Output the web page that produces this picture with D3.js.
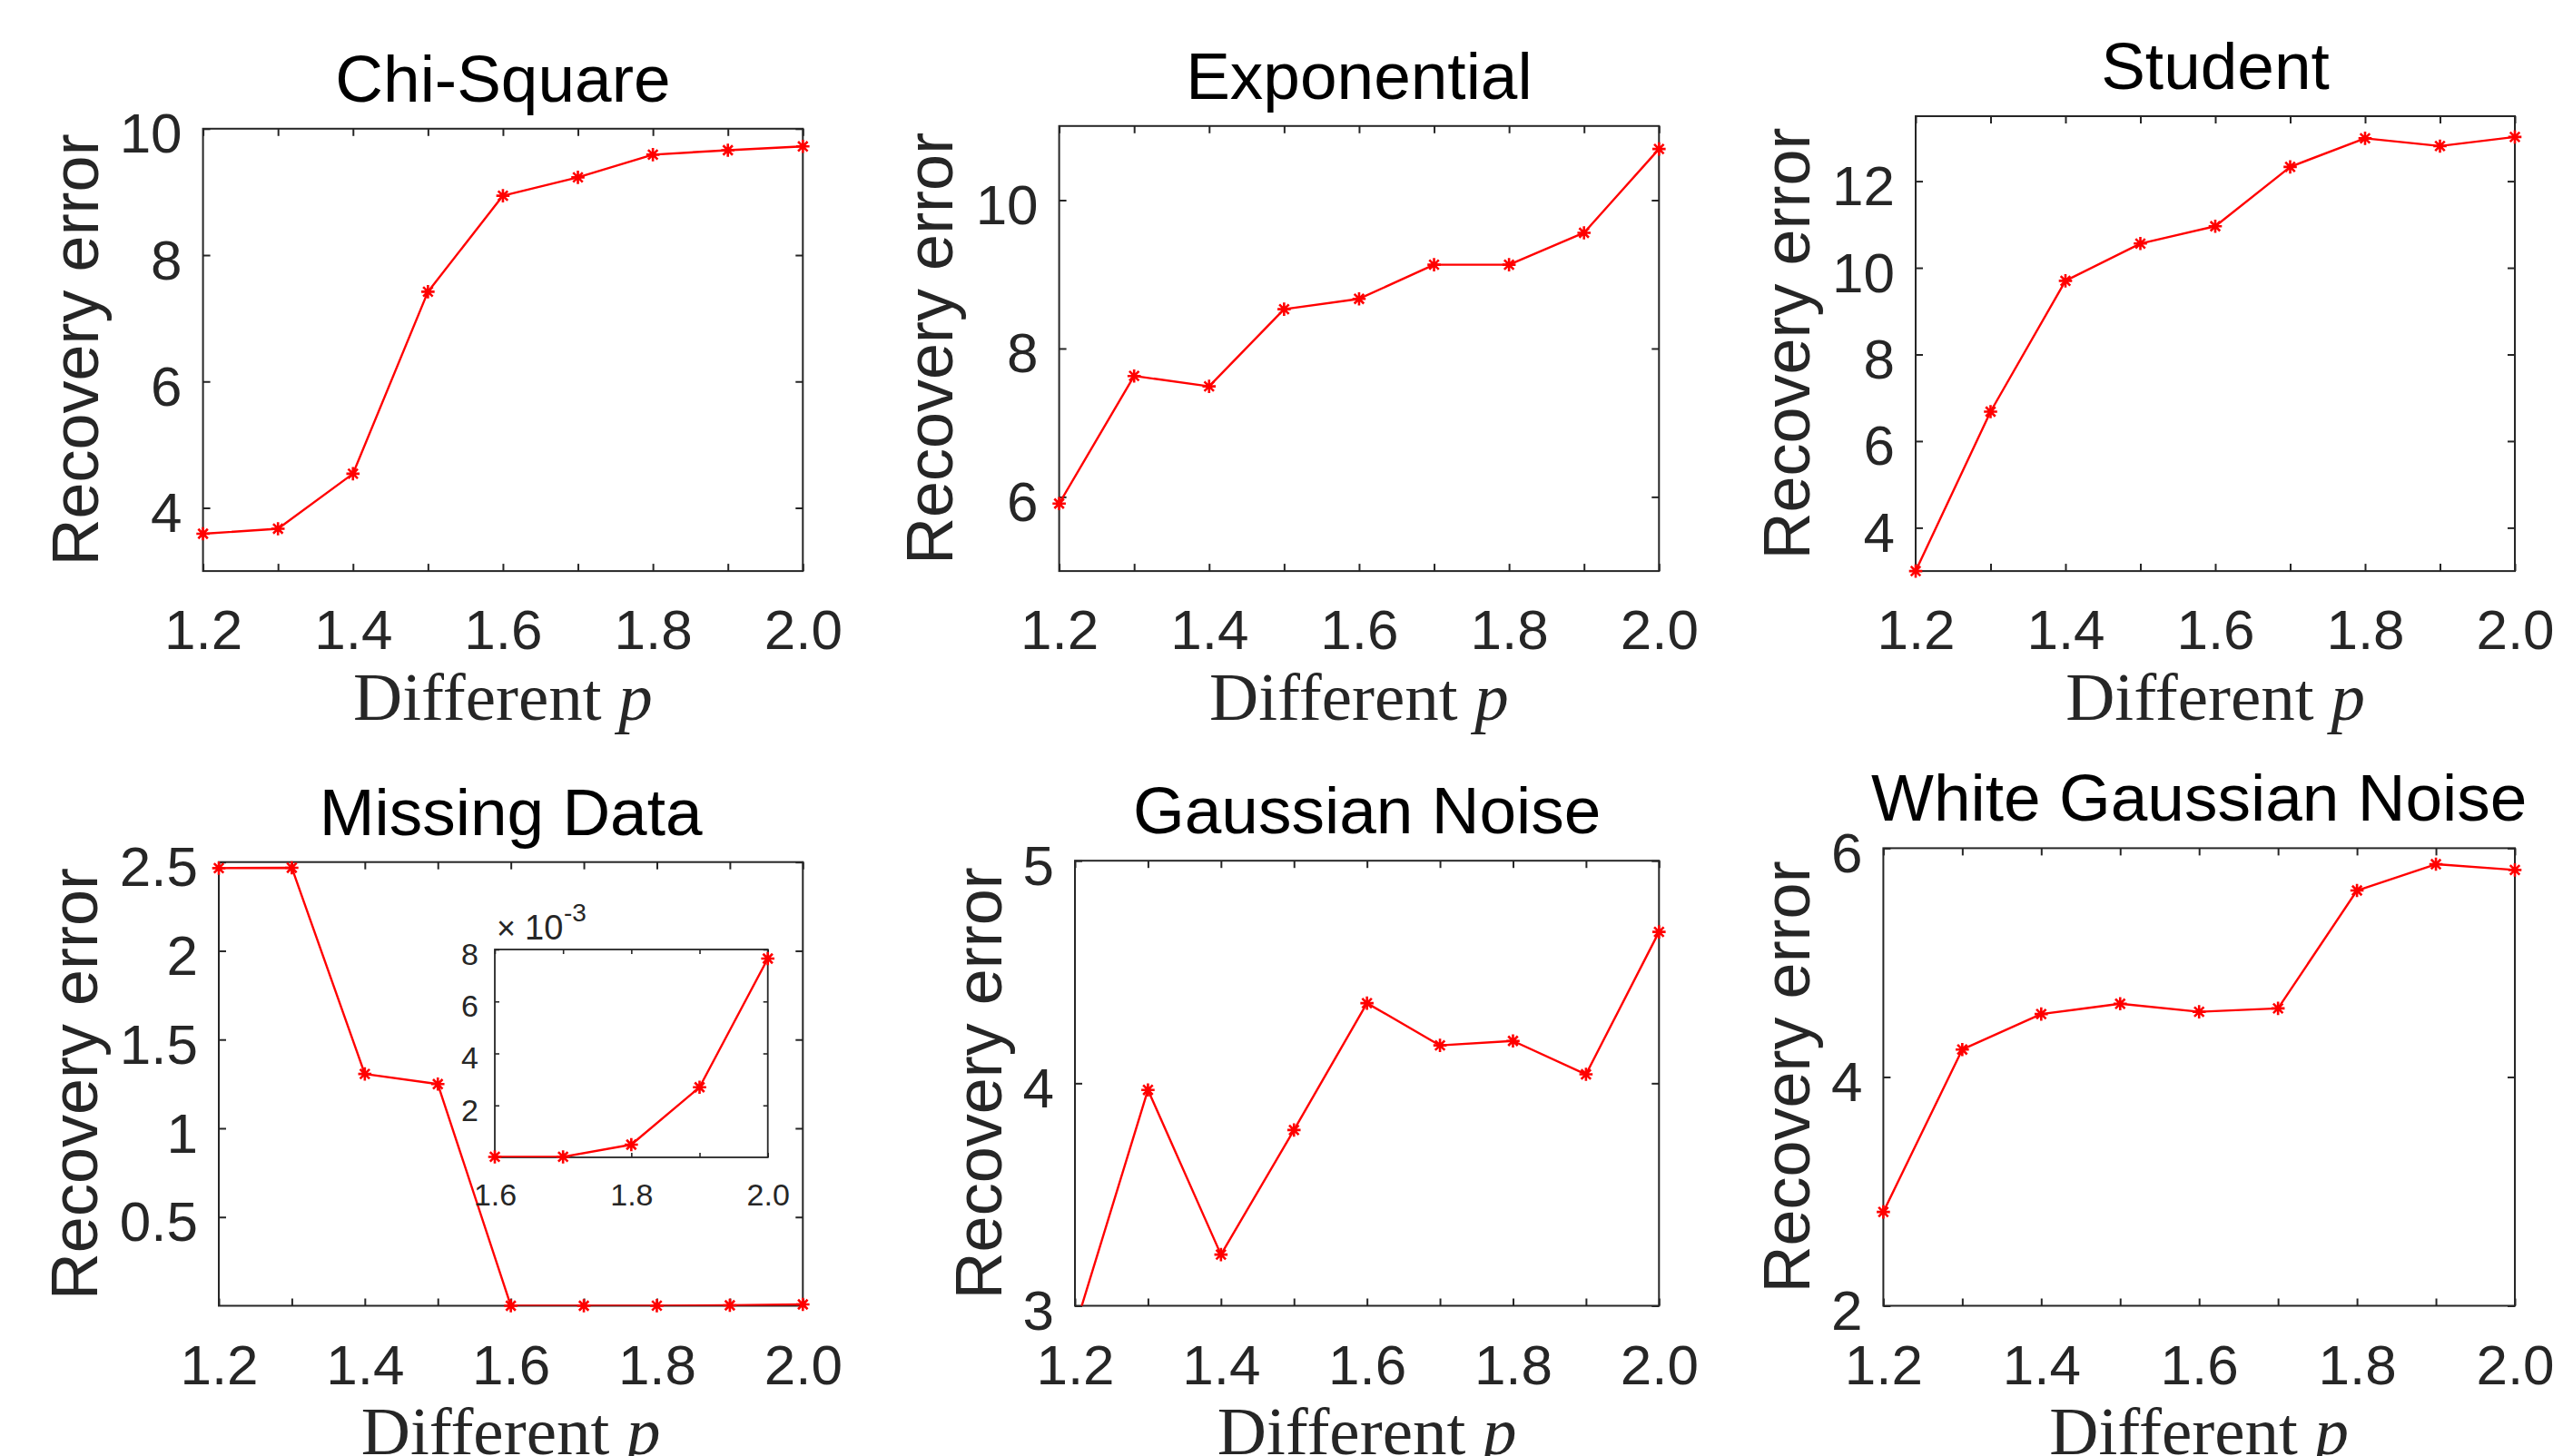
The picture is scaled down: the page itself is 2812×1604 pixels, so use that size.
<!DOCTYPE html>
<html>
<head>
<meta charset="utf-8">
<script src="https://cdn.jsdelivr.net/npm/d3@7"></script>
<style>
  html, body { margin: 0; padding: 0; background: #fff; }
  svg { display: block; }
  .tick text { font-family: "Liberation Sans", Arial, Helvetica, sans-serif; fill: #262626; }
</style>
</head>
<body>
<svg id="chart" width="2812" height="1604"></svg>
<script>
// ---------------- DATA ----------------
const pValues = [1.2, 1.3, 1.4, 1.5, 1.6, 1.7, 1.8, 1.9, 2.0];
const xTickLabels = ["1.2", "", "1.4", "", "1.6", "", "1.8", "", "2.0"];

const titles = ["Chi-Square", "Exponential", "Student", "Missing Data", "Gaussian Noise", "White Gaussian Noise"];

const chiSquare          = [3.59, 3.67, 4.54, 7.42, 8.94, 9.23, 9.59, 9.66, 9.72];
const exponential        = [5.91, 7.63, 7.49, 8.53, 8.67, 9.13, 9.13, 9.56, 10.69];
const student            = [3.00, 6.68, 9.70, 10.56, 10.96, 12.33, 12.99, 12.81, 13.02];
const missingData        = [2.466, 2.468, 1.306, 1.249, 0.00002, 0.00002, 0.00049, 0.0027, 0.00765];
const gaussianNoise      = [2.90, 3.97, 3.23, 3.79, 4.36, 4.17, 4.19, 4.04, 4.68];
const whiteGaussianNoise = [2.82, 4.24, 4.55, 4.64, 4.57, 4.60, 5.63, 5.86, 5.81];

const seriesList = [chiSquare, exponential, student, missingData, gaussianNoise, whiteGaussianNoise];

const yDomains = [[3, 10], [5, 11], [3, 13.5], [0, 2.5], [3, 5], [2, 6]];
const yTicks = [
  [4, 6, 8, 10],
  [6, 8, 10],
  [4, 6, 8, 10, 12],
  [0.5, 1, 1.5, 2, 2.5],
  [3, 4, 5],
  [2, 4, 6]
];

// inset (Missing Data, zoomed)
const insetP = [1.6, 1.7, 1.8, 1.9, 2.0];
const insetMissing = [0.00002, 0.00002, 0.00049, 0.0027, 0.00765];
const insetXTickLabels = ["1.6", "", "1.8", "", "2.0"];
const insetYTicks = [0.002, 0.004, 0.006, 0.008];

// ---------------- LAYOUT ----------------
const layout = [
  { left: 223.6, right: 884.3, top: 141.8, bottom: 629.1, ylabOff: 116 },
  { left: 1166.6, right: 1827.3, top: 138.8, bottom: 629.1, ylabOff: 118 },
  { left: 2110, right: 2770, top: 128, bottom: 629.1, ylabOff: 117 },
  { left: 241, right: 884.3, top: 949.7, bottom: 1438.5, ylabOff: 134 },
  { left: 1184, right: 1827.3, top: 948.2, bottom: 1438.5, ylabOff: 81 },
  { left: 2074.4, right: 2770, top: 934.4, bottom: 1438.5, ylabOff: 81 }
];
const insetLayout = { left: 545, right: 845.7, top: 1046, bottom: 1275 };

const AXIS_COLOR = "#262626";
const RED = "#ff0000";
const SANS = '"Liberation Sans", Arial, Helvetica, sans-serif';
const SERIF = '"Liberation Serif", "Times New Roman", serif';

const svg = d3.select("#chart");

function asteriskPath(x, y, r) {
  const d = r * 0.72;
  return `M${x - r},${y}H${x + r}M${x},${y - r}V${y + r}` +
         `M${x - d},${y - d}L${x + d},${y + d}M${x - d},${y + d}L${x + d},${y - d}`;
}

function drawAxesBox(g, L, xScale, yScale, xTickVals, xLabels, yTickVals, yFmt, opts) {
  const w = L.right - L.left, h = L.bottom - L.top;
  const tl = opts.tickLen, fs = opts.fontSize;
  const bottom = g.append("g").attr("transform", `translate(0,${h})`)
    .call(d3.axisBottom(xScale).tickValues(xTickVals).tickSizeInner(-tl).tickSizeOuter(0)
      .tickPadding(opts.xPad).tickFormat((d, i) => xLabels[i]));
  const top = g.append("g")
    .call(d3.axisTop(xScale).tickValues(xTickVals).tickSizeInner(-tl).tickSizeOuter(0).tickFormat(""));
  const left = g.append("g")
    .call(d3.axisLeft(yScale).tickValues(yTickVals).tickSizeInner(-tl).tickSizeOuter(0)
      .tickPadding(opts.yPad).tickFormat(yFmt));
  const right = g.append("g").attr("transform", `translate(${w},0)`)
    .call(d3.axisRight(yScale).tickValues(yTickVals).tickSizeInner(-tl).tickSizeOuter(0).tickFormat(""));

  [bottom, top, left, right].forEach(a => {
    a.select(".domain").remove();
    a.attr("font-family", SANS).attr("font-size", fs);
    a.selectAll(".tick line").attr("stroke", AXIS_COLOR).attr("stroke-width", opts.tickWidth);
    a.selectAll(".tick text").attr("fill", AXIS_COLOR);
  });
  left.selectAll(".tick text").attr("dy", opts.yDy);
  bottom.selectAll(".tick text").attr("dy", "0.71em");

  g.append("rect").attr("x", 0).attr("y", 0).attr("width", w).attr("height", h)
    .attr("fill", "none").attr("stroke", AXIS_COLOR).attr("stroke-width", opts.boxWidth);
}

function drawSeries(g, id, L, xScale, yScale, xs, ys, r, lw) {
  const w = L.right - L.left, h = L.bottom - L.top;
  g.append("clipPath").attr("id", id).append("rect")
    .attr("x", 0).attr("y", 0).attr("width", w).attr("height", h);
  const pts = xs.map((x, i) => [x, ys[i]]);
  g.append("path").datum(pts)
    .attr("clip-path", `url(#${id})`)
    .attr("fill", "none").attr("stroke", RED).attr("stroke-width", lw)
    .attr("stroke-linejoin", "round")
    .attr("d", d3.line().x(d => xScale(d[0])).y(d => yScale(d[1])));
  const dom = yScale.domain();
  g.append("g").selectAll("path").data(pts.filter(d => d[1] >= dom[0] - 1e-9 && d[1] <= dom[1] + 1e-9))
    .join("path")
    .attr("d", d => asteriskPath(xScale(d[0]), yScale(d[1]), r))
    .attr("fill", "none").attr("stroke", RED).attr("stroke-width", 2.6);
}

layout.forEach((L, k) => {
  const w = L.right - L.left, h = L.bottom - L.top;
  const g = svg.append("g").attr("transform", `translate(${L.left},${L.top})`);
  const x = d3.scaleLinear().domain([1.2, 2.0]).range([0, w]);
  const y = d3.scaleLinear().domain(yDomains[k]).range([h, 0]);

  drawAxesBox(g, L, x, y, pValues, xTickLabels, yTicks[k], d => String(d),
    { tickLen: 8, fontSize: 62, xPad: 42, yPad: 23, yDy: "0.42em", tickWidth: 2, boxWidth: 2 });

  g.append("text").attr("x", w / 2).attr("y", -30)
    .attr("text-anchor", "middle").attr("font-family", SANS).attr("font-size", 73)
    .attr("fill", "#000").text(titles[k]);

  g.append("text")
    .attr("transform", `translate(${-L.ylabOff},${h / 2}) rotate(-90)`)
    .attr("text-anchor", "middle").attr("font-family", SANS).attr("font-size", 72)
    .attr("fill", AXIS_COLOR).text("Recovery error");

  const xl = g.append("text").attr("x", w / 2).attr("y", h + 164)
    .attr("text-anchor", "middle").attr("font-family", SERIF).attr("font-size", 75)
    .attr("fill", AXIS_COLOR);
  xl.append("tspan").text("Different ");
  xl.append("tspan").attr("font-style", "italic").text("p");

  drawSeries(g, "clip" + k, L, x, y, pValues, seriesList[k], 7.3, 2.4);
});

// ---------------- INSET ----------------
(function () {
  const L = insetLayout;
  const w = L.right - L.left, h = L.bottom - L.top;
  const g = svg.append("g").attr("transform", `translate(${L.left},${L.top})`);
  g.append("rect").attr("width", w).attr("height", h).attr("fill", "#fff");
  const x = d3.scaleLinear().domain([1.6, 2.0]).range([0, w]);
  const y = d3.scaleLinear().domain([0, 0.008]).range([h, 0]);
  drawAxesBox(g, L, x, y, insetP, insetXTickLabels, insetYTicks, d => String(Math.round(d * 1000)),
    { tickLen: 5, fontSize: 34, xPad: 29, yPad: 18, yDy: "0.48em", tickWidth: 1.6, boxWidth: 1.8 });
  drawSeries(g, "clipInset", L, x, y, insetP, insetMissing, 7.3, 2.4);

  const ex = g.append("text").attr("y", -11).attr("font-family", SANS).attr("fill", AXIS_COLOR);
  ex.append("tspan").attr("x", 2).attr("font-size", 36).text("\u00D7");
  ex.append("tspan").attr("x", 33).attr("font-size", 38).text("10");
  ex.append("tspan").attr("x", 76).attr("dy", -20).attr("font-size", 28).text("-3");
})();
</script>
</body>
</html>
